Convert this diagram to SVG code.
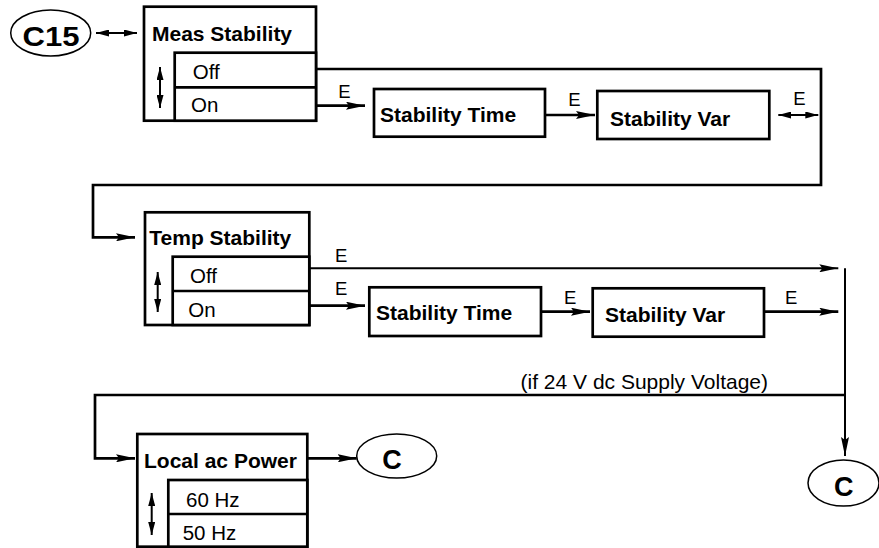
<svg xmlns="http://www.w3.org/2000/svg" width="879" height="548" viewBox="0 0 879 548">
<style>
.box{fill:#fff;stroke:#000;stroke-width:2.7}
.ell{fill:#fff;stroke:#000;stroke-width:1.5}
.ln{fill:none;stroke:#000;stroke-width:2.7}
.thin{fill:none;stroke:#000;stroke-width:2}
.t{font-family:"Liberation Sans",Arial,sans-serif;font-size:20.5px;fill:#000}
.b{font-family:"Liberation Sans",Arial,sans-serif;font-size:21px;font-weight:bold;fill:#000}
.c{font-family:"Liberation Sans",Arial,sans-serif;font-size:27px;font-weight:bold;fill:#000;text-anchor:middle}
.e{font-family:"Liberation Sans",Arial,sans-serif;font-size:18.5px;fill:#000}
</style>
<defs>
<marker id="ah" markerWidth="19" markerHeight="8" refX="19" refY="4" orient="auto" markerUnits="userSpaceOnUse"><path d="M0,0 L19,4 L0,8 L3,4 Z" fill="#000"/></marker>
<marker id="sh" markerWidth="13" markerHeight="7" refX="13" refY="3.5" orient="auto-start-reverse" markerUnits="userSpaceOnUse"><path d="M0,0 L13,3.5 L0,7 Z" fill="#000"/></marker>
</defs>

<g id="c15">
<ellipse class="ell" cx="50.7" cy="33" rx="40" ry="23"/>
<text class="c" x="51" y="45.5" textLength="57" lengthAdjust="spacingAndGlyphs">C15</text>
</g>

<g id="meas-stability">
<rect class="box" x="144" y="6.7" width="172" height="114"/>
<rect class="box" x="174.7" y="52.7" width="141.3" height="68"/>
<line class="box" x1="174.7" y1="87.3" x2="316" y2="87.3"/>
<text class="b" x="152" y="40.7">Meas Stability</text>
<text class="t" x="192.7" y="79">Off</text>
<text class="t" x="191" y="111.7">On</text>
<line class="thin" x1="160" y1="67" x2="160" y2="108" marker-start="url(#sh)" marker-end="url(#sh)"/>
</g>

<g id="stability-time-1">
<rect class="box" x="374" y="89" width="171" height="47.7"/>
<text class="b" x="380" y="121.7">Stability Time</text>
</g>

<g id="stability-var-1">
<rect class="box" x="597.3" y="91" width="172" height="48"/>
<text class="b" x="610" y="125.7">Stability Var</text>
</g>

<g id="temp-stability">
<rect class="box" x="145" y="212.3" width="164.3" height="112.7"/>
<rect class="box" x="172.7" y="256.7" width="136.6" height="68.3"/>
<line class="box" x1="172.7" y1="291" x2="309.3" y2="291"/>
<text class="b" x="149.3" y="245">Temp Stability</text>
<text class="t" x="190" y="283.3">Off</text>
<text class="t" x="188.3" y="316.7">On</text>
<line class="thin" x1="157.7" y1="272" x2="157.7" y2="312" marker-start="url(#sh)" marker-end="url(#sh)"/>
</g>

<g id="stability-time-2">
<rect class="box" x="369.3" y="287.3" width="171.7" height="48.7"/>
<text class="b" x="376" y="320">Stability Time</text>
</g>

<g id="stability-var-2">
<rect class="box" x="592.7" y="288.3" width="171.3" height="48.4"/>
<text class="b" x="605" y="321.7">Stability Var</text>
</g>

<g id="local-ac-power">
<rect class="box" x="137.3" y="434" width="170" height="112.7"/>
<rect class="box" x="168.3" y="480" width="139" height="66.7"/>
<line class="box" x1="168.3" y1="514" x2="307.3" y2="514"/>
<text class="b" x="144" y="468.3">Local ac Power</text>
<text class="t" x="186" y="506.7">60 Hz</text>
<text class="t" x="182.7" y="540">50 Hz</text>
<line class="thin" x1="151.7" y1="493" x2="151.7" y2="535" marker-start="url(#sh)" marker-end="url(#sh)"/>
</g>

<g id="c-mid">
<ellipse class="ell" cx="396.7" cy="456" rx="40" ry="22"/>
<text class="c" x="392" y="469.3">C</text>
</g>

<g id="c-right">
<ellipse class="ell" cx="843.5" cy="483" rx="35.5" ry="23"/>
<text class="c" x="843.7" y="496">C</text>
</g>

<g id="connectors">
<line class="thin" x1="96" y1="33" x2="137" y2="33" marker-start="url(#sh)" marker-end="url(#sh)"/>
<polyline class="ln" points="316,69 821,69 821,185 93,185 93,237.3 135,237.3" marker-end="url(#ah)"/>
<line class="ln" x1="316" y1="105.7" x2="365" y2="105.7" marker-end="url(#ah)"/>
<text class="e" x="338.3" y="97.7">E</text>
<line class="ln" x1="545" y1="115" x2="595" y2="115" marker-end="url(#ah)"/>
<text class="e" x="568.3" y="105.7">E</text>
<line class="thin" x1="778.3" y1="115" x2="818.3" y2="115" marker-start="url(#sh)" marker-end="url(#sh)"/>
<text class="e" x="793.3" y="105">E</text>

<line class="thin" x1="309.3" y1="268.3" x2="838.3" y2="268.3" marker-end="url(#ah)"/>
<text class="e" x="335" y="261.7">E</text>
<line class="ln" x1="309.3" y1="305.7" x2="365" y2="305.7" marker-end="url(#ah)"/>
<text class="e" x="335" y="295">E</text>
<line class="ln" x1="541" y1="311.7" x2="590" y2="311.7" marker-end="url(#ah)"/>
<text class="e" x="564" y="304">E</text>
<line class="ln" x1="764" y1="311.7" x2="838.3" y2="311.7" marker-end="url(#ah)"/>
<text class="e" x="785" y="304">E</text>

<line class="thin" x1="845" y1="268.3" x2="845" y2="456" marker-end="url(#ah)"/>
<polyline class="ln" points="845,395 95,395 95,458.3 135,458.3" marker-end="url(#ah)"/>
<text class="t" x="768" y="388.5" text-anchor="end" style="font-size:21px">(if 24 V dc Supply Voltage)</text>
<line class="ln" x1="307.3" y1="458.3" x2="356.7" y2="458.3" marker-end="url(#ah)"/>
</g>
</svg>
